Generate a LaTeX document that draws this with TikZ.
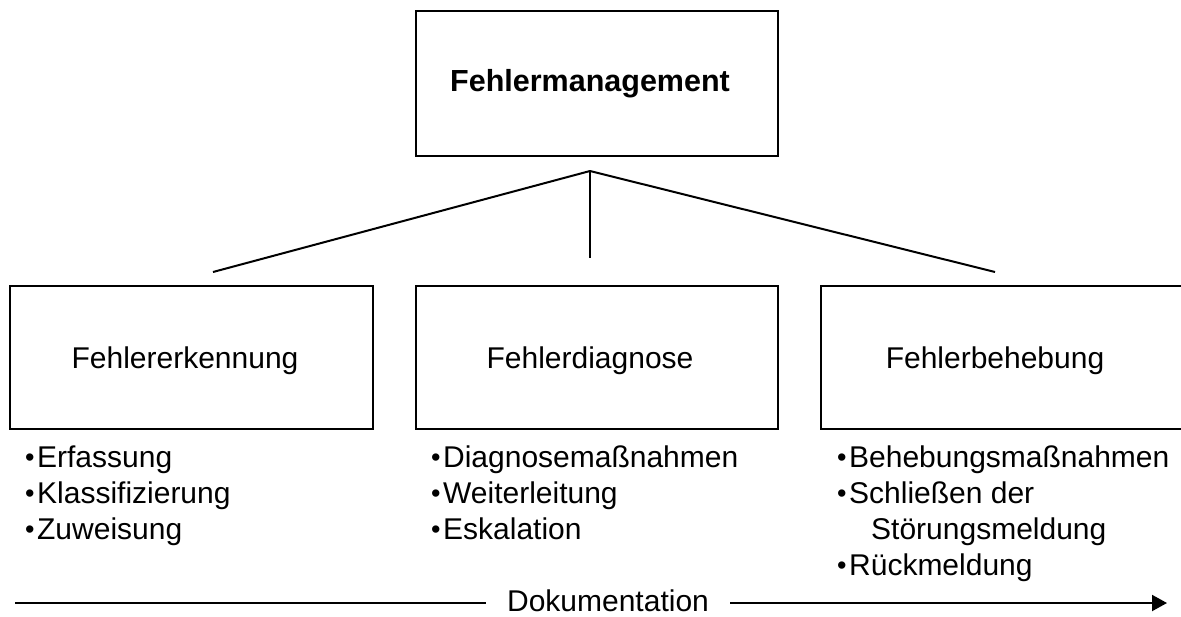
\documentclass[tikz,border=0pt]{standalone}
\usepackage{fontspec}
\setmainfont{Liberation Sans}
\usetikzlibrary{arrows.meta}
% small raised bullet used in the task lists
\newcommand{\bul}{\raisebox{0.8pt}{\scalebox{0.9}{•}}\hspace{2.5pt}}
\begin{document}
\begin{tikzpicture}[x=1pt,y=-1pt,
  box/.style={draw=black,line width=1.6pt,rectangle,inner sep=0pt},
  title/.style={font=\fontsize{30.5}{36}\selectfont\bfseries,inner sep=0pt,anchor=base},
  boxtext/.style={font=\fontsize{30}{36}\selectfont,inner sep=0pt,anchor=base},
  item/.style={font=\fontsize{30}{36}\selectfont,inner sep=0pt,anchor=base west},
  link/.style={line width=2pt},
  stem/.style={line width=1.2pt}]
  \useasboundingbox (0,0) rectangle (1181,616);
  \clip (0,0) rectangle (1181,616);

  % top box
  \node[box,minimum width=362pt,minimum height=145pt] (top) at (597,83.5) {};
  \node[title] (toptext) at (590,91) {Fehlermanagement};

  % three phase boxes
  \node[box,minimum width=363pt,minimum height=143pt] (erk) at (191.5,357.5) {};
  \node[boxtext] (erktext) at (185,368) {Fehlererkennung};
  \node[box,minimum width=362pt,minimum height=143pt] (dia) at (597,357.5) {};
  \node[boxtext] (diatext) at (590,368) {Fehlerdiagnose};
  \node[box,minimum width=366pt,minimum height=143pt] (beh) at (1004,357.5) {};
  \node[boxtext] (behtext) at (995,368) {Fehlerbehebung};

  % branching connectors
  \coordinate (j) at (590,171);
  \coordinate (jl) at (213,272);
  \coordinate (jm) at (590,258);
  \coordinate (jr) at (995,272);
  \draw[link] (j) -- (jl);
  \draw[link] (j) -- (jr);
  \draw[stem] (j) -- (jm);

  % task lists
  \node[item] (e1) at (25,467) {\bul Erfassung};
  \node[item] (e2) at (25,503) {\bul Klassifizierung};
  \node[item] (e3) at (25,539) {\bul Zuweisung};

  \node[item] (d1) at (431,467) {\bul Diagnosemaßnahmen};
  \node[item] (d2) at (431,503) {\bul Weiterleitung};
  \node[item] (d3) at (431,539) {\bul Eskalation};

  \node[item] (b1) at (837,467) {\bul Behebungsmaßnahmen};
  \node[item] (b2) at (837,503) {\bul Schließen der};
  \node[item] (b2b) at (871,539) {Störungsmeldung};
  \node[item] (b3) at (837,575) {\bul Rückmeldung};

  % documentation timeline
  \node[boxtext,inner xsep=21pt] (doku) at (608,611) {Dokumentation};
  \coordinate (ds) at (15,603);
  \coordinate (de) at (1167,603);
  \draw[link] (ds) -- (ds -| doku.west);
  \draw[link,-{Triangle[length=15pt,width=16pt]}] (de -| doku.east) -- (de);
\end{tikzpicture}
\end{document}
